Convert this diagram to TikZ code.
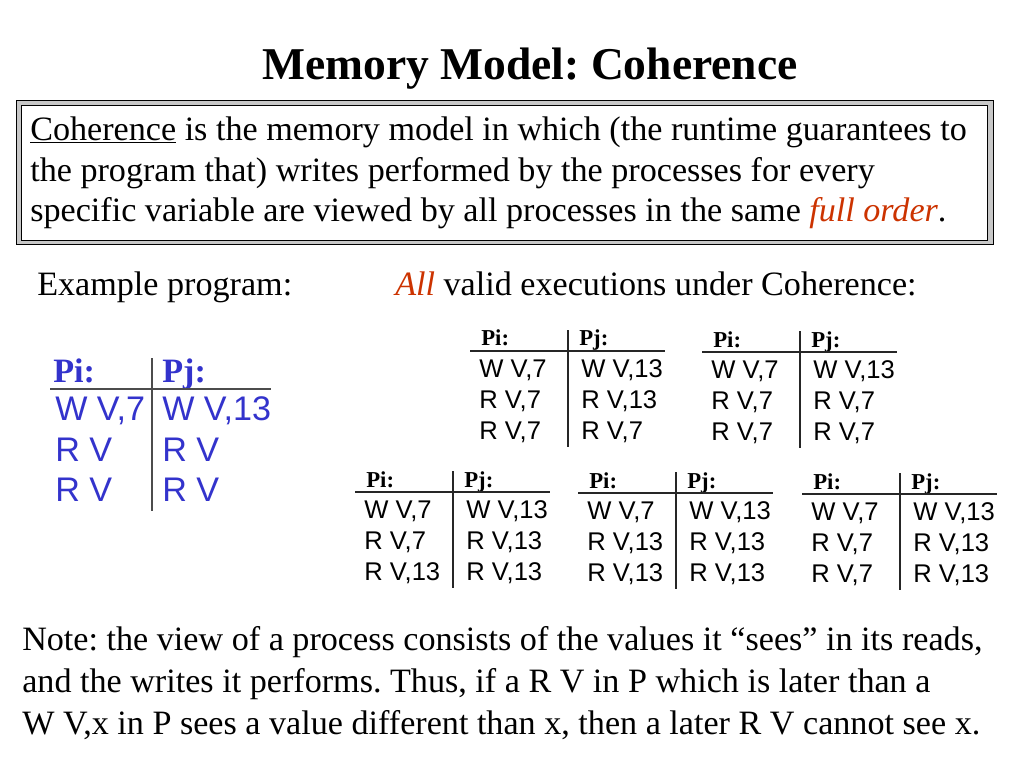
\documentclass[tikz,border=0pt]{standalone}
\usepackage{fontspec}
\setmainfont{Liberation Serif}
\setsansfont{Liberation Sans}
\usepackage{tikz}
\frenchspacing

\definecolor{progblue}{RGB}{51,51,204}
\definecolor{hotred}{RGB}{204,51,0}

\tikzset{
  x=0.703125pt, y=-0.703125pt,
  txt/.style={anchor=base west, inner sep=0pt, align=left,
    font=\fontsize{24}{28.8}\selectfont},
  hdr/.style={anchor=base west, inner sep=0pt, font=\fontsize{16}{16}\selectfont\bfseries},
  ent/.style={anchor=base west, inner sep=0pt, font=\sffamily\fontsize{18}{18}\selectfont},
  bighdr/.style={anchor=base west, inner sep=0pt, text=progblue,
    font=\fontsize{24}{24}\selectfont\bfseries},
  bigent/.style={anchor=base west, inner sep=0pt, text=progblue,
    font=\sffamily\fontsize{24}{24}\selectfont},
  tabrule/.style={line width=0.8pt, black!85},
}

% one execution: x, y of the header rule, name, Pi column, Pj column
\newcommand{\exectab}[9]{%
  \node[hdr] (#3pi) at (#1+11,#2-5) {Pi:};
  \node[hdr] (#3pj) at (#1+109,#2-5) {Pj:};
  \node[ent] (#3a) at (#1+9,#2+26) {#4};
  \node[ent] (#3b) at (#1+9,#2+57) {#5};
  \node[ent] (#3c) at (#1+9,#2+88) {#6};
  \node[ent] (#3d) at (#1+111,#2+26) {#7};
  \node[ent] (#3e) at (#1+111,#2+57) {#8};
  \node[ent] (#3f) at (#1+111,#2+88) {#9};
  \draw[tabrule] (#1,#2) -- (#1+195,#2);
  \draw[tabrule] (#1+98,#2-21) -- (#1+98,#2+96);
}

\begin{document}
\begin{tikzpicture}
\useasboundingbox (0,0) rectangle (1024,768);

%% title
\node[anchor=base, inner sep=0pt, font=\fontsize{32}{32}\selectfont\bfseries]
  (title) at (530,80) {Memory Model: Coherence};

%% definition box
\draw[fill=black!22, line width=0.7pt] (16,101) rectangle (993,244);
\draw[fill=white, line width=0.7pt] (21,106) rectangle (987,240);
\node[txt] (defn) at (30,222)
  {\underline{Coherence} is the memory model in which (the runtime guarantees to\\
   the program that) writes performed by the processes for every\\
   specific variable are viewed by all processes in the same
   \textcolor{hotred}{\itshape full order}.};

%% captions
\node[txt] (progcap) at (37,295) {Example program:};
\node[txt] (execcap) at (395,295) {\textcolor{hotred}{\itshape All} valid executions under Coherence:};

%% example program
\node[bighdr] (ppi) at (53,382) {Pi:};
\node[bighdr] (ppj) at (162,382) {Pj:};
\node[bigent] (pa) at (55,420) {W V,7};
\node[bigent] (pb) at (55,461) {R V};
\node[bigent] (pc) at (55,501) {R V};
\node[bigent] (pd) at (162,420) {W V,13};
\node[bigent] (pe) at (162,461) {R V};
\node[bigent] (pf) at (162,501) {R V};
\draw[line width=1pt, black!70] (50,389) -- (271,389);
\draw[line width=1pt, black!70] (152,358) -- (152,511);

%% executions
\exectab{470}{351}{ea}{W V,7}{R V,7}{R V,7}{W V,13}{R V,13}{R V,7}
\exectab{702}{352}{eb}{W V,7}{R V,7}{R V,7}{W V,13}{R V,7}{R V,7}
\exectab{355}{492}{ec}{W V,7}{R V,7}{R V,13}{W V,13}{R V,13}{R V,13}
\exectab{578}{493}{ed}{W V,7}{R V,13}{R V,13}{W V,13}{R V,13}{R V,13}
\exectab{802}{494}{ee}{W V,7}{R V,7}{R V,7}{W V,13}{R V,13}{R V,13}

%% note
\node[txt, font=\fontsize{24}{29.2}\selectfont] (note) at (22,734)
  {Note: the view of a process consists of the values it ``sees'' in its reads,\\
   and the writes it performs. Thus, if a R V in P which is later than a\\
   W V,x in P sees a value different than x, then a later R V cannot see x.};

\end{tikzpicture}
\end{document}
